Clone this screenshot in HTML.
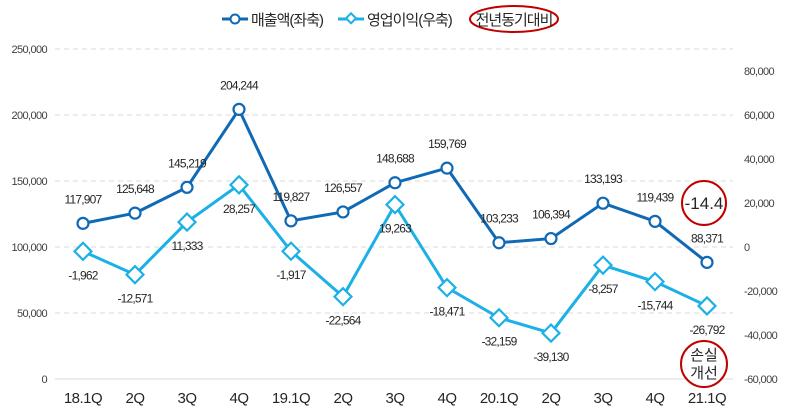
<!DOCTYPE html>
<html><head><meta charset="utf-8"><style>
body{margin:0;background:#fff;font-family:"Liberation Sans","Noto Sans CJK KR",sans-serif}
svg text{font-family:"Liberation Sans","Noto Sans CJK KR",sans-serif}
</style></head><body>
<svg id="c" width="788" height="410" xmlns="http://www.w3.org/2000/svg"></svg>
<script>
const categories=["18.1Q","2Q","3Q","4Q","19.1Q","2Q","3Q","4Q","20.1Q","2Q","3Q","4Q","21.1Q"];
const revenue=[117907,125648,145219,204244,119827,126557,148688,159769,103233,106394,133193,119439,88371];
const opIncome=[-1962,-12571,11333,28257,-1917,-22564,19263,-18471,-32159,-39130,-8257,-15744,-26792];
const leftTicks=[0,50000,100000,150000,200000,250000];
const rightTicks=[-60000,-40000,-20000,0,20000,40000,60000,80000];
const svg=document.getElementById('c');const NS='http://www.w3.org/2000/svg';
function el(t,a,p){const e=document.createElementNS(NS,t);for(const k in a)e.setAttribute(k,a[k]);(p||svg).appendChild(e);return e;}
const x=i=>83+i*52;
const yL=v=>379-v*66/50000;
const yR=v=>247-v*44/20000;
const fmt=v=>v.toLocaleString('en-US');
leftTicks.forEach(v=>{
 if(v>0){const g=el('line',{x1:55,x2:733,y1:yL(v),y2:yL(v),stroke:'#d9d9d9','stroke-dasharray':'5,4'});}
 const t=el('text',{x:47,y:yL(v)+4,'text-anchor':'end','font-size':11,fill:'#404040','letter-spacing':'-0.6'});t.textContent=fmt(v);
 
});
el('line',{x1:55,x2:733,y1:379,y2:379,stroke:'#d9d9d9'});
rightTicks.forEach(v=>{const t=el('text',{x:744,y:yR(v)+4,'font-size':11,fill:'#404040','letter-spacing':'-0.6'});t.textContent=fmt(v);
 });
categories.forEach((c,i)=>{const t=el('text',{x:x(i),y:403,'text-anchor':'middle','font-size':15,fill:'#262626','letter-spacing':'-0.5'});t.textContent=c;
 });
el('polyline',{points:opIncome.map((v,i)=>x(i)+','+yR(v)).join(' '),fill:'none',stroke:'#1cb0e6','stroke-width':3});
opIncome.forEach((v,i)=>{const p=el('rect',{x:x(i)-6,y:yR(v)-6,width:12,height:12,fill:'#fff',stroke:'#1cb0e6','stroke-width':2.2,transform:`rotate(45 ${x(i)} ${yR(v)})`});
 
 const t=el('text',{x:x(i),y:yR(v)+28,'text-anchor':'middle','font-size':12,fill:'#262626','letter-spacing':'-0.8'});t.textContent=fmt(v);
 });
el('polyline',{points:revenue.map((v,i)=>x(i)+','+yL(v)).join(' '),fill:'none',stroke:'#1069b4','stroke-width':3});
revenue.forEach((v,i)=>{const p=el('circle',{cx:x(i),cy:yL(v),r:5.5,fill:'#fff',stroke:'#1069b4','stroke-width':2.2});
 
 const t=el('text',{x:x(i),y:yL(v)-20,'text-anchor':'middle','font-size':12,fill:'#262626','letter-spacing':'-0.8'});t.textContent=fmt(v);
 });
</script>
<svg width="788" height="410" style="position:absolute;left:0;top:0" xmlns="http://www.w3.org/2000/svg">
<g>
<line x1="222" y1="19" x2="248" y2="19" stroke="#1069b4" stroke-width="3"/><circle cx="235" cy="19" r="4.5" fill="#fff" stroke="#1069b4" stroke-width="2"/>
<text x="251" y="25" font-size="15" fill="#262626" letter-spacing="-1">매출액(좌축)</text>
<line x1="338" y1="19" x2="364" y2="19" stroke="#1cb0e6" stroke-width="3"/><rect x="347" y="15" width="7" height="7" fill="#fff" stroke="#1cb0e6" stroke-width="2" transform="rotate(45 351 19)"/>
<text x="367" y="25" font-size="15" fill="#262626" letter-spacing="-1">영업이익(우축)</text>
<ellipse cx="514" cy="19" rx="44" ry="13" fill="none" stroke="#c00000" stroke-width="2"/>
<text x="514" y="25" font-size="15" text-anchor="middle" fill="#262626" letter-spacing="-1">전년동기대비</text>
</g>
<g>
<circle cx="704" cy="203" r="22" fill="#fff" stroke="#c00000" stroke-width="2"/>
<text x="704" y="209" font-size="17" text-anchor="middle" fill="#262626">-14.4</text>
</g>
<g>
<circle cx="704" cy="364" r="23" fill="#fff" stroke="#c00000" stroke-width="2"/>
<text x="704" y="360" font-size="15" text-anchor="middle" fill="#262626">손실</text>
<text x="704" y="378" font-size="15" text-anchor="middle" fill="#262626">개선</text>
</g>
</svg>
</body></html>
